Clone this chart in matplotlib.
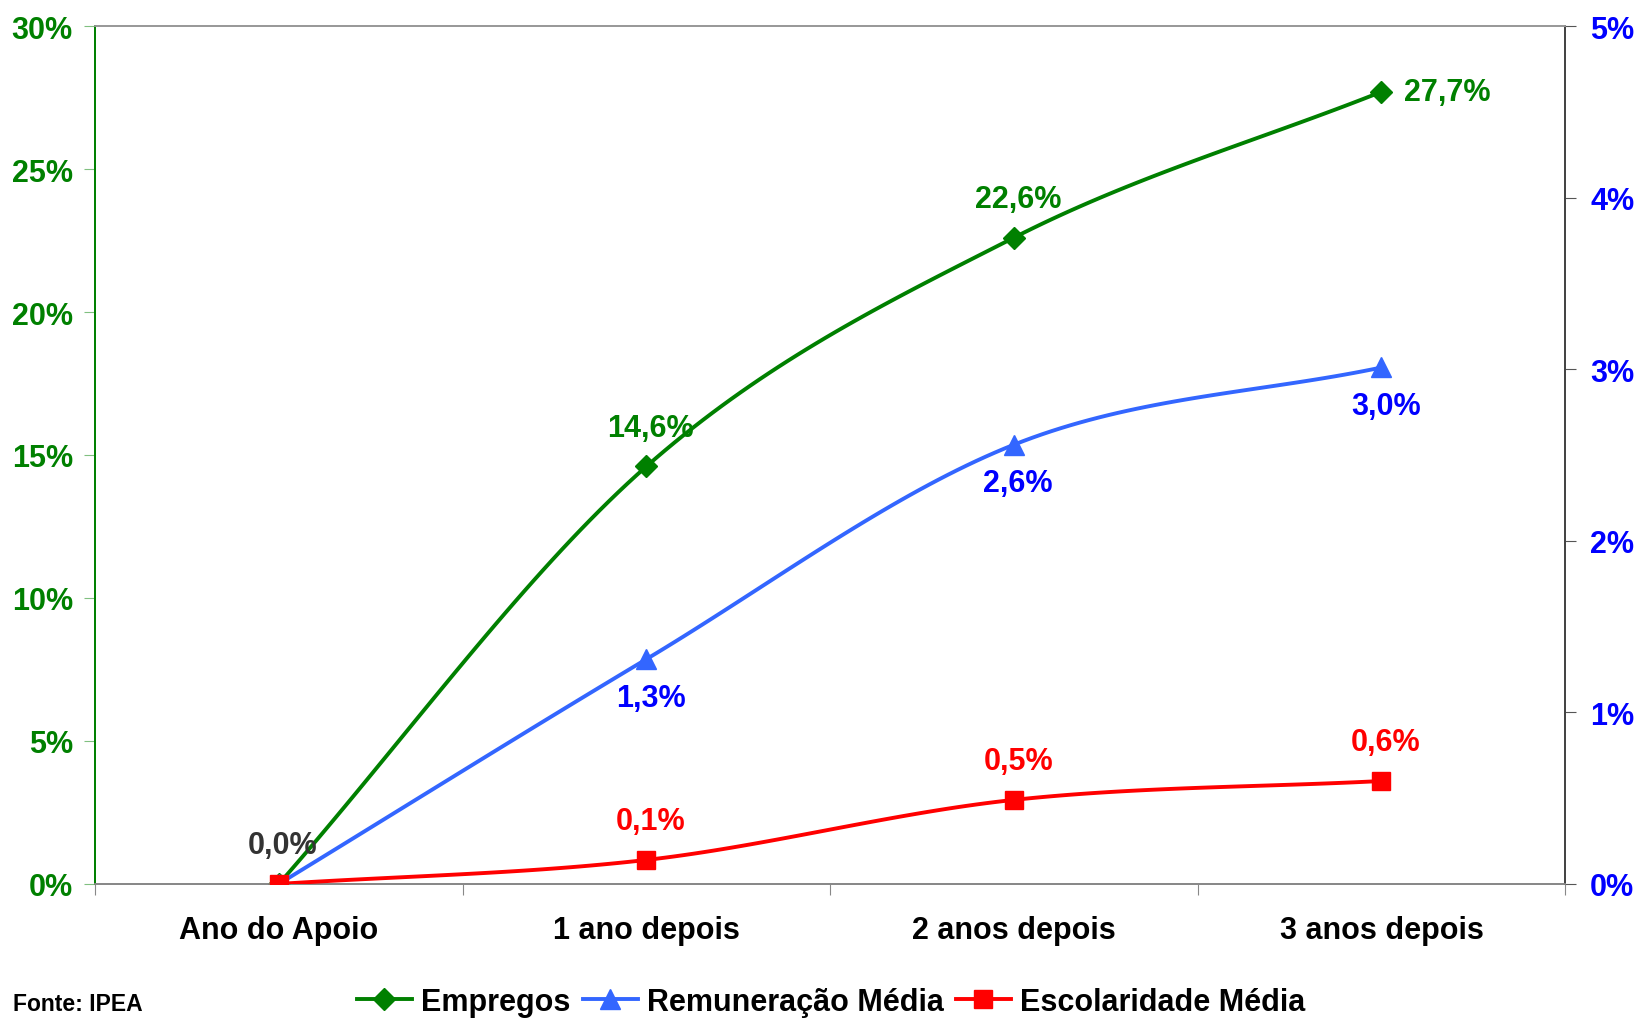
import matplotlib.pyplot as plt
import numpy as np

plt.rcParams['font.family'] = ['Liberation Sans', 'DejaVu Sans']
plt.rcParams['font.weight'] = 'bold'

categories = ["Ano do Apoio", "1 ano depois", "2 anos depois", "3 anos depois"]
empregos = [0.0, 14.6, 22.6, 27.7]          # eixo esquerdo
remuneracao = [0.0, 1.31, 2.56, 3.01]       # eixo direito
escolaridade = [0.0, 0.14, 0.49, 0.60]      # eixo direito
left_ticks = [0, 5, 10, 15, 20, 25, 30]
right_ticks = [0, 1, 2, 3, 4, 5]

GREEN = "#008000"
BLUE_LINE = "#3366FF"
BLUE_TXT = "#0000FF"
RED = "#FF0000"


def smooth(x, y, n=40):
    """Catmull-Rom curve through the points (like Excel's smoothed lines)."""
    x = np.asarray(x, float)
    y = np.asarray(y, float)
    px = np.concatenate([[2 * x[0] - x[1]], x, [2 * x[-1] - x[-2]]])
    py = np.concatenate([[2 * y[0] - y[1]], y, [2 * y[-1] - y[-2]]])
    xs, ys = [], []
    t = np.linspace(0, 1, n)
    for i in range(1, len(px) - 2):
        for p, out in ((px, xs), (py, ys)):
            p0, p1, p2, p3 = p[i - 1], p[i], p[i + 1], p[i + 2]
            out.extend(0.5 * (2 * p1 + (-p0 + p2) * t
                              + (2 * p0 - 5 * p1 + 4 * p2 - p3) * t ** 2
                              + (-p0 + 3 * p1 - 3 * p2 + p3) * t ** 3))
    return np.array(xs), np.array(ys)


def fmt(v, digits=1):
    return f"{v:.{digits}f}".replace(".", ",") + "%"


fig = plt.figure(figsize=(16.39, 10.2), dpi=100)
ax = fig.add_axes([0.058, 0.1324, 0.897, 0.8411])
ax2 = ax.twinx()

x = np.arange(len(categories)) + 0.5

# Empregos on the left axis
sx, sy = smooth(x, empregos)
ax.plot(sx, sy, color=GREEN, lw=2.8, zorder=3)
ax.plot(x, empregos, ls="none", marker="D", ms=11, color=GREEN, zorder=4)

# Remuneração and Escolaridade on the right axis
sx, sy = smooth(x, remuneracao)
ax2.plot(sx, sy, color=BLUE_LINE, lw=2.8, zorder=3)
ax2.plot(x, remuneracao, ls="none", marker="^", ms=14, color=BLUE_LINE, zorder=4)
sx, sy = smooth(x, escolaridade)
ax2.plot(sx, sy, color=RED, lw=2.8, zorder=3)
ax2.plot(x, escolaridade, ls="none", marker="s", ms=13, color=RED, zorder=5)

ax.set_xlim(0, len(categories))
ax.set_ylim(0, 30)
ax2.set_ylim(0, 5)

# data labels
fs = 22
for i in range(1, len(categories)):
    if i == 3:
        ax.annotate(fmt(empregos[i]), (x[i], empregos[i]), xytext=(16, 0),
                    textcoords="offset points", ha="left", va="center",
                    color=GREEN, fontsize=fs, fontweight="bold")
    else:
        ax.annotate(fmt(empregos[i]), (x[i], empregos[i]), xytext=(3, 17),
                    textcoords="offset points", ha="center", va="bottom",
                    color=GREEN, fontsize=fs, fontweight="bold")
    ax2.annotate(fmt(remuneracao[i]), (x[i], remuneracao[i]), xytext=(3, -17),
                 textcoords="offset points", ha="center", va="top",
                 color=BLUE_TXT, fontsize=fs, fontweight="bold")
    ax2.annotate(fmt(escolaridade[i]), (x[i], escolaridade[i]), xytext=(3, 17),
                 textcoords="offset points", ha="center", va="bottom",
                 color=RED, fontsize=fs, fontweight="bold")
ax2.annotate(fmt(empregos[0]), (x[0], 0), xytext=(3, 17),
             textcoords="offset points", ha="center", va="bottom",
             color="#333333", fontsize=fs, fontweight="bold", zorder=6)

# axes styling
ax.set_xticks(np.arange(len(categories) + 1))
ax.set_xticklabels([])
ax.set_xticks(x, minor=True)
ax.set_xticklabels(categories, minor=True, fontsize=22, fontweight="bold")
ax.tick_params(axis="x", which="minor", length=0, pad=22)
ax.tick_params(axis="x", which="major", length=8, color="#888888", direction="out")

ax.set_yticks(left_ticks)
ax.set_yticklabels([f"{t}%" for t in left_ticks], fontsize=22,
                   fontweight="bold", color=GREEN)
ax.tick_params(axis="y", length=8, color="#80C080", direction="out", pad=8)

ax2.set_yticks(right_ticks)
ax2.set_yticklabels([f"{t}%" for t in right_ticks], fontsize=22,
                    fontweight="bold", color=BLUE_TXT)
ax2.tick_params(axis="y", length=8, color="#555555", direction="out", pad=10)

for a in (ax, ax2):
    a.spines["top"].set_color("#999999")
    a.spines["bottom"].set_color("#888888")
    a.spines["left"].set_color(GREEN)
    a.spines["right"].set_color("#444444")
    for s in a.spines.values():
        s.set_linewidth(1.3)

# legend
handles = [
    plt.Line2D([], [], color=GREEN, lw=2.8, marker="D", ms=11),
    plt.Line2D([], [], color=BLUE_LINE, lw=2.8, marker="^", ms=14),
    plt.Line2D([], [], color=RED, lw=2.8, marker="s", ms=13),
]
fig.legend(handles, ["Empregos", "Remuneração Média", "Escolaridade Média"],
           loc="center", bbox_to_anchor=(0.507, 0.017), ncol=3, frameon=False,
           prop={"size": 22, "weight": "bold"}, handlelength=1.8,
           handletextpad=0.3, columnspacing=0.4)

fig.text(0.008, 0.004, "Fonte: IPEA", fontsize=16.5, fontweight="bold",
         ha="left", va="bottom")

fig.savefig("out.png", dpi=100)
